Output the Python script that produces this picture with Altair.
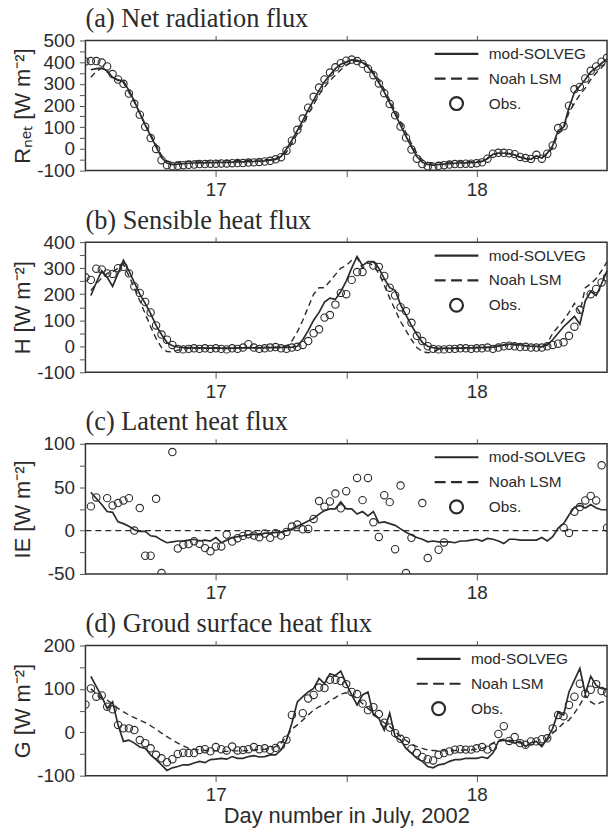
import altair as alt
import pandas as pd

# ---------------- data (30-min steps, 16.5 .. 18.5) ----------------
N = 97
time = [round(16.5 + i / 48, 5) for i in range(N)]
SERIES = ["mod-SOLVEG", "Noah LSM", "Obs."]

# (a) Net radiation flux
rnet_obs = [403, 405, 405, 398, 380, 345, 320, 300, 255, 208,
            158, 102, 50, 0, -52, -75, -80, -78, -75, -73,
            -72, -70, -70, -68, -68, -67, -67, -66, -65, -65,
            -63, -62, -60, -58, -55, -48, -38, -8, 38, 88,
            140, 190, 240, 283, 320, 352, 376, 395, 407, 412,
            405, 392, 370, 340, 302, 257, 207, 155, 103, 52,
            -3, -45, -70, -80, -82, -78, -75, -72, -70, -70,
            -68, -68, -66, -62, -45, -22, -18, -18, -20, -24,
            -37, -42, -46, -27, -45, -22, 16, 96, 105, 199,
            275, 286, 325, 360, 380, 402, 420]
rnet_mod = [None, 365, 370, 372, 360, 330, 318, 312, 270, 220,
            165, 110, 60, 10, -40, -65, -72, -70, -68, -66,
            -65, -64, -64, -63, -63, -62, -62, -61, -60, -60,
            -59, -58, -57, -55, -52, -48, -35, 0, 40, 85,
            130, 180, 225, 270, 310, 340, 370, 390, 400, 410,
            408, 398, 378, 345, 305, 262, 212, 160, 108, 58,
            10, -35, -62, -72, -75, -72, -70, -68, -66, -65,
            -64, -63, -62, -58, -45, -25, -20, -20, -22, -28,
            -38, -45, -48, -32, -42, -20, 15, 85, 100, 190,
            260, 290, 320, 355, 375, 395, 415]
rnet_noah = [None, 330, 358, 372, 355, 330, 315, 305, 260, 215,
             165, 115, 65, 20, -30, -55, -62, -60, -58, -57,
             -56, -56, -55, -55, -55, -54, -54, -54, -53, -53,
             -52, -52, -51, -50, -48, -45, -35, -15, 25, 70,
             115, 160, 205, 250, 285, 315, 340, 365, 385, 400,
             405, 400, 385, 355, 320, 275, 225, 175, 125, 75,
             25, -20, -50, -62, -65, -63, -62, -61, -60, -60,
             -60, -59, -58, -55, -42, -25, -20, -20, -22, -28,
             -38, -45, -48, -32, -42, -25, 5, 70, 90, 170,
             210, 250, 280, 320, 350, 375, 400]

# (b) Sensible heat flux
h_obs = [265, 255, 298, 295, 280, 278, 300, 305, 280, 230,
         205, 170, 130, 80, 45, 25, 5, -10, -12, -10,
         -8, -10, -8, -10, -8, -10, -12, -8, -10, -5,
         8, -5, -10, -8, -5, -3, -8, -10, -5, -2,
         5, 20, 50, 65, 110, 120, 160, 205, 200, 255,
         285, 285, None, 310, 305, 270, 225, 195, 150, 135,
         90, 40, 20, 0, -10, -12, -12, -10, -10, -8,
         -8, -10, -8, -8, -5, -10, -5, 0, 2, 0,
         -3, -2, -5, -5, -5, 0, 5, 10, 15, 40,
         75, 140, None, 200, 220, 245, 265]
h_mod = [None, 195, 245, 290, 265, 230, 280, 330, 290, 245,
         200, 165, 125, 80, 45, 15, 2, -3, -5, -5,
         -6, -6, -7, -7, -6, -7, -8, -7, -6, -6,
         -5, -6, -6, -5, -5, -5, -4, -4, -3, 0,
         25, 60, 100, 130, 170, 185, 180, 210, 250, 300,
         345, 310, 325, 325, 300, 260, 225, 215, 160, 120,
         80, 45, 15, 0, -5, -8, -8, -8, -7, -7,
         -6, -6, -5, -5, -4, -3, 0, 5, 8, 8,
         5, 3, 0, 0, -2, 5, 25, 50, 75, 95,
         115, 85, 175, 210, 195, 240, 290]
h_noah = [None, 214, 240, 262, 280, 285, 300, 315, 270, 225,
          175, 125, 75, 30, -5, -20, -22, -15, -10, -8,
          -8, -8, -8, -7, -7, -7, -7, -6, -6, -6,
          -6, -5, -5, -5, -5, -4, -4, 0, 20, 55,
          100, 150, 200, 225, 225, 250, 275, 300, 310, 330,
          340, 300, 320, 310, 280, 235, 185, 140, 95, 60,
          25, -5, -20, -25, -22, -12, -8, -7, -7, -6,
          -6, -6, -5, -5, -4, -2, 2, 5, 6, 5,
          3, 2, 0, -1, 0, 10, 50, 75, 100, 130,
          165, 130, 225, 240, 260, 290, 325]

# (c) Latent heat flux
le_obs = [None, 27.9, 38.2, None, 37.4, 29, 31.7, 34.7, 37.4, 0,
          26, -29, -29, 36.6, -48.9, None, 90.5, -20.6, -16.4, -15.6,
          -12.2, -15.3, -20.2, -23.7, -18.3, -18.3, -4.6, -12.6, -8.8, -6.1,
          -4.2, -5.7, -7.6, -3.4, -8.4, -3.1, -5.7, -1.5, 4.6, 6.9,
          1.5, 1.9, 13.4, 34, 27.5, 33.6, 42.7, 25.6, 45.4, None,
          60.7, 35.1, 60.7, 9.5, -7.3, 40.8, 32.8, -21.4, 51.9, -48.9,
          -8.4, None, 31.7, -31.7, None, -22.1, -13.7, None, None, None,
          None, None, None, None, None, None, None, None, None, None,
          None, None, None, None, None, None, None, None, 3.4, -2.7,
          21.8, 27.1, 34.7, 40, 34.7, 75.2, 3.4]
le_mod = [None, 44, 37, 30, 22, 21, 10, 8, 5, 1,
          -1, -1, -6, -7, -11, -14, -13, -12, -12, -11,
          -10, -12, -11, -12, -8, -14, -11, -8, -7, -6,
          -5, -4, -5, -3, -3, -2, -2, 0, 2, 5,
          8, 11, 14, 19, 23, 25, 25, 33, 25, 25,
          19, 22, 17, 22, 9, 10, 8, 6, 2, -2,
          -5, -8, -10, -13, -12, -13, -13, -13, -14, -12,
          -12, -11, -10, -12, -9, -10, -12, -15, -10, -10,
          -11, -11, -11, -11, -8, -12, -7, 3, 8, 18,
          27, 29, 26, 30, 26, 24, 24]
le_noah = [0] * N

# (d) Ground surface heat flux
g_obs = [64, 101, 82, 85, 59, 53, 17, 9, 9, 5,
         -18, -25, -37, -52, -60, -69, -62, -50, -47, -48,
         -48, -41, -39, -44, -34, -39, -42, -33, -42, -41,
         -39, -34, -39, -37, -41, -36, -30, -17, 40, None,
         44, 78, 86, 103, 102, 121, 121, 118, 111, 93,
         88, 66, 51, 58, 42, 22, 11, -2, -15, -20,
         -38, -48, -57, -62, -65, -52, -48, -44, -40, -39,
         -40, -40, -37, -34, -40, -34, -4, 14, -20, -11,
         -25, -29, -21, -21, -16, -14, 9, 40, 37, 63,
         82, 112, 89, 98, 111, 95, 91]
g_mod = [None, 129, 105, 82, 55, 70, 17, -21, -18, -25,
         -34, -37, -52, -63, -75, -88, -82, -79, -75, -75,
         -71, -67, -70, -63, -62, -60, -62, -56, -60, -60,
         -56, -54, -57, -56, -52, -52, -41, -18, 21, 70,
         82, 93, 101, 124, 112, 135, 131, 141, 112, 86,
         63, 86, 93, 40, 32, 5, 44, -10, -18, -37,
         -48, -60, -67, -79, -82, -75, -73, -67, -63, -63,
         -60, -60, -60, -57, -60, -48, -21, -18, -21, -25,
         -21, -33, -24, -21, -33, -14, 9, 47, 40, 93,
         120, 147, 89, 129, 108, 101, 99]
g_noah = [None, 100, 89, 78, 74, 66, 55, 47, 40, 34,
          28, 22, 15, 7, -2, -10, -18, -25, -31, -37,
          -39, -41, -42, -43, -43, -44, -44, -43, -43, -43,
          -42, -41, -40, -39, -37, -33, -25, -10, 7, 17,
          28, 40, 51, 59, 63, 73, 80, 88, 91, 86,
          78, 66, 55, 44, 32, 22, 13, 2, -10, -19,
          -27, -33, -37, -41, -42, -43, -43, -43, -42, -42,
          -41, -41, -39, -37, -34, -25, -18, -16, -18, -21,
          -25, -29, -29, -27, -29, -18, -2, 9, 21, 28,
          44, 63, 86, 70, 63, 70, 70]

# ---------------- styling ----------------
INK = "#2b2b2b"
SANS = "Liberation Sans"
SERIF = "Liberation Serif"
SOLID = "M-2.2,0H2.2"
DASHED = "M-2.2,0H-1.1M-0.55,0H0.55M1.1,0H2.2"
CIRCLE = "M0.65,0A0.65,0.65,0,1,1,-0.65,0A0.65,0.65,0,1,1,0.65,0Z"
W, H = 525, 131


def panel(title, ytitle, mod, noah, obs, ydomain, yticks, lab_step,
          xtitle=None, legend_x=362):
    df = pd.DataFrame({
        "t": time * 3,
        "v": list(mod) + list(noah) + list(obs),
        "series": [SERIES[0]] * N + [SERIES[1]] * N + [SERIES[2]] * N,
    })
    base = alt.Chart(df)
    xscale = alt.Scale(domain=[16.5, 18.5], nice=False, zero=False)
    yscale = alt.Scale(domain=ydomain, nice=False, zero=False)

    xaxis_kw = dict(orient="bottom", values=[17, 17.5, 18],
                    labelExpr="datum.value % 1 == 0 ? '' + datum.value : ''")
    if xtitle is None:
        xaxis = alt.Axis(title=None, **xaxis_kw)
    else:
        xaxis = alt.Axis(title=xtitle, titleFont=SANS, titleFontSize=22,
                         titleFontWeight="normal", titleColor=INK,
                         titlePadding=1, **xaxis_kw)
    x_bottom = alt.X("t:Q", scale=xscale, axis=xaxis)
    x_top = alt.X("t:Q", scale=xscale, axis=alt.Axis(
        orient="top", values=[17, 17.5, 18], labels=False, title=None,
        tickSize=5))
    x_none = alt.X("t:Q", scale=xscale, axis=None)
    y_left = alt.Y("v:Q", scale=yscale, axis=alt.Axis(
        values=yticks,
        labelExpr=f"datum.value % {lab_step} == 0 ? '' + datum.value : ''",
        title=ytitle, titleFont=SANS, titleFontSize=22, titleFontWeight="normal",
        titleColor=INK, titleX=-63, titleY=H / 2, titleAngle=270,
        titleAlign="center", titleBaseline="middle"))

    mod_line = base.transform_filter(alt.datum.series == SERIES[0]).mark_line(
        color=INK, strokeWidth=1.7).encode(x=x_bottom, y=y_left)
    noah_line = base.transform_filter(alt.datum.series == SERIES[1]).mark_line(
        color=INK, strokeWidth=1.4, strokeDash=[6, 4]).encode(x=x_top, y=y_left)
    obs_pts = base.transform_filter(alt.datum.series == SERIES[2]).mark_point(
        filled=False, size=130, strokeWidth=1.1, color=INK, opacity=1, clip=True
    ).encode(
        x=x_none,
        y=y_left,
        shape=alt.Shape("series:N", scale=alt.Scale(domain=SERIES,
                                                     range=[SOLID, DASHED, CIRCLE]),
                        legend=alt.Legend(
                            title=None, orient="none", legendX=legend_x, legendY=2,
                            symbolSize=400, symbolStrokeWidth=2.2,
                            symbolStrokeColor=INK, symbolFillColor="transparent",
                            labelFont=SANS, labelFontSize=15.5, labelColor=INK,
                            labelOffset=21, rowPadding=5, padding=0)),
    )
    return alt.layer(mod_line, noah_line, obs_pts).resolve_axis(
        x="independent").properties(
        width=W, height=H,
        title=alt.TitleParams(title, anchor="start", frame="group", font=SERIF,
                              fontSize=26.5, fontWeight="normal", color=INK,
                              offset=-1))


pa = panel("(a) Net radiation flux", "Rₙₑₜ [W m⁻²]", rnet_mod, rnet_noah, rnet_obs,
           [-100, 500], list(range(-100, 501, 50)), 100)
pb = panel("(b) Sensible heat flux", "H [W m⁻²]", h_mod, h_noah, h_obs,
           [-100, 400], list(range(-100, 401, 50)), 100)
pc = panel("(c) Latent heat flux", "IE [W m⁻²]", le_mod, le_noah, le_obs,
           [-50, 100], list(range(-50, 101, 25)), 50)
pd_ = panel("(d) Groud surface heat flux", "G [W m⁻²]", g_mod, g_noah, g_obs,
            [-100, 200], list(range(-100, 201, 50)), 100,
            xtitle="Day number in July, 2002", legend_x=344)

chart = alt.vconcat(pa, pb, pc, pd_, spacing=6).resolve_scale(
    y="independent", shape="independent").resolve_legend(
    shape="independent").configure_view(
    stroke="#333333", strokeWidth=1.5).configure_axis(
    domain=False, ticks=True, tickColor="#555555", tickSize=6, tickWidth=1,
    labelFont=SANS, labelFontSize=19, labelColor=INK, labelPadding=4,
    grid=False).configure_axisY(labelPadding=5).properties(
    padding={"left": 11, "top": 2, "right": 0, "bottom": 2},
    background="white")

chart.save("out.html", embed_options={"renderer": "svg", "actions": False})
